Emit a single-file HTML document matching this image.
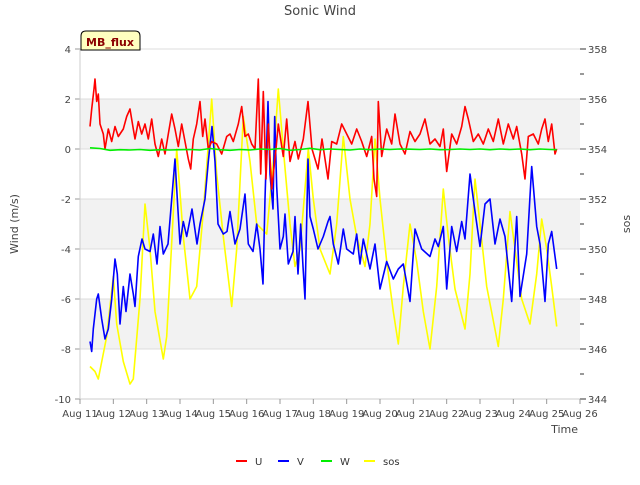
<!DOCTYPE html>
<html><head><meta charset="utf-8"><style>
body{margin:0;background:#fff;font-family:"Liberation Sans",sans-serif;}
svg text{font-family:"DejaVu Sans","Liberation Sans",sans-serif;}
</style></head><body>
<svg id="c" width="640" height="480" xmlns="http://www.w3.org/2000/svg">
<rect x="0" y="0" width="640" height="480" fill="#fff"/>
<text x="320" y="15" text-anchor="middle" font-size="13" fill="#444">Sonic Wind</text>
<g id="bands"></g>
<g id="grid"></g>
<g id="series"></g>
<g id="axes"></g>
<text transform="translate(18,224) rotate(-90)" text-anchor="middle" font-size="11" fill="#444">Wind (m/s)</text>
<text transform="translate(630,224) rotate(-90)" text-anchor="middle" font-size="11" fill="#444">sos</text>
<text x="578" y="433" text-anchor="end" font-size="11" fill="#444">Time</text>
<g>
<path d="M81,50 L81,36 Q81,31 86,31 L135,31 Q140,31 140,36 L140,50 Z" fill="#ffffc0" stroke="#000" stroke-width="1"/>
<text x="110" y="46" text-anchor="middle" font-size="11" font-weight="bold" fill="#8b0000">MB_flux</text>
</g>
<g id="legend"></g>
</svg>
<script>
const tU=[11.3,11.35,11.42,11.45,11.5,11.55,11.6,11.7,11.75,11.85,11.95,12.05,12.15,12.3,12.4,12.5,12.6,12.65,12.75,12.85,12.95,13.05,13.15,13.25,13.35,13.45,13.55,13.65,13.75,13.85,13.95,14.05,14.15,14.25,14.32,14.4,14.5,14.6,14.68,14.75,14.85,14.95,15.1,15.25,15.4,15.5,15.6,15.75,15.85,15.95,16.05,16.15,16.25,16.35,16.42,16.5,16.58,16.65,16.75,16.88,16.95,17.1,17.2,17.3,17.45,17.55,17.7,17.84,17.96,18.14,18.26,18.44,18.55,18.7,18.85,19.0,19.15,19.3,19.45,19.6,19.75,19.82,19.9,19.95,20.05,20.2,20.35,20.45,20.6,20.75,20.9,21.05,21.2,21.35,21.5,21.65,21.8,21.9,22.0,22.15,22.3,22.45,22.55,22.65,22.8,22.95,23.1,23.25,23.4,23.55,23.7,23.85,24.0,24.1,24.25,24.35,24.45,24.6,24.75,24.85,24.95,25.05,25.15,25.25,25.3];
const uVals=[0.9,1.6,2.4,2.8,1.9,2.2,1.0,0.6,0.0,0.8,0.3,0.9,0.5,0.8,1.3,1.6,0.8,0.4,1.1,0.6,1.0,0.4,1.2,0.2,-0.3,0.4,-0.2,0.6,1.4,0.8,0.1,1.0,0.3,-0.4,-0.8,0.4,1.0,1.9,0.5,1.2,0.0,0.3,0.2,-0.2,0.5,0.6,0.3,1.0,1.7,0.5,0.6,0.2,0.0,2.8,-1.0,2.3,-1.2,1.0,-1.6,0.0,1.0,-0.3,1.2,-0.5,0.3,-0.4,0.4,1.9,0.0,-0.8,0.4,-1.2,0.3,0.2,1.0,0.6,0.2,0.8,0.3,-0.3,0.5,-1.2,-1.9,1.9,-0.3,0.8,0.2,1.4,0.2,-0.2,0.7,0.3,0.6,1.2,0.2,0.4,0.1,0.8,-0.9,0.6,0.2,0.9,1.7,1.2,0.3,0.6,0.2,0.8,0.3,1.2,0.2,1.0,0.4,0.9,-0.2,-1.2,0.5,0.6,0.2,0.8,1.2,0.3,1.0,-0.2,0.0];
const tV=[11.3,11.35,11.4,11.5,11.55,11.65,11.75,11.85,11.95,12.05,12.12,12.2,12.3,12.38,12.5,12.6,12.65,12.75,12.86,12.95,13.1,13.2,13.31,13.4,13.5,13.64,13.72,13.85,13.92,14.0,14.1,14.2,14.36,14.51,14.6,14.75,14.85,14.96,15.05,15.14,15.3,15.41,15.5,15.65,15.8,15.95,16.05,16.19,16.3,16.4,16.49,16.55,16.64,16.7,16.79,16.84,16.9,17.0,17.1,17.15,17.25,17.39,17.45,17.54,17.62,17.69,17.75,17.84,17.9,18.0,18.14,18.3,18.44,18.5,18.6,18.75,18.9,19.0,19.2,19.3,19.4,19.5,19.7,19.85,20.0,20.2,20.4,20.55,20.7,20.9,21.05,21.25,21.5,21.65,21.75,21.9,22.0,22.15,22.3,22.45,22.55,22.7,22.85,23.0,23.15,23.3,23.45,23.6,23.75,23.95,24.1,24.2,24.4,24.55,24.7,24.8,24.95,25.05,25.15,25.3];
const vVals=[-7.7,-8.1,-7.2,-6.0,-5.8,-6.8,-7.6,-7.2,-6.0,-4.4,-5.0,-7.0,-5.5,-6.5,-5.0,-5.8,-6.3,-4.3,-3.6,-4.0,-4.1,-3.4,-4.6,-3.1,-4.2,-3.8,-2.5,-0.4,-2.0,-3.8,-2.9,-3.5,-2.4,-3.8,-3.0,-2.0,-0.5,0.9,-0.5,-3.0,-3.4,-3.3,-2.5,-3.8,-3.2,-1.8,-3.8,-4.1,-3.0,-4.0,-5.4,-2.0,1.9,-1.0,-2.4,1.3,-1.5,-4.0,-3.5,-2.6,-4.6,-4.1,-2.7,-5.0,-3.0,-4.7,-6.0,-0.4,-2.7,-3.2,-4.0,-3.5,-2.9,-2.7,-3.8,-4.6,-3.2,-4.0,-4.2,-3.4,-4.6,-3.6,-4.8,-3.8,-5.6,-4.5,-5.2,-4.8,-4.6,-6.1,-3.2,-4.0,-4.3,-3.6,-3.9,-3.1,-5.6,-3.1,-4.1,-2.9,-3.6,-1.0,-2.5,-3.9,-2.2,-2.0,-3.8,-2.8,-3.5,-6.1,-2.7,-5.9,-4.2,-0.7,-3.1,-3.8,-6.1,-3.8,-3.3,-4.8];
const tW=[11.3,11.6,11.9,12.2,12.5,12.8,13.1,13.4,13.7,14.0,14.3,14.6,14.9,15.2,15.5,15.8,16.1,16.4,16.7,17.0,17.3,17.6,17.9,18.2,18.5,18.8,19.1,19.4,19.7,20.0,20.3,20.6,20.9,21.2,21.5,21.8,22.1,22.4,22.7,23.0,23.3,23.6,23.9,24.2,24.5,24.8,25.1,25.3];
const wVals=[0.05,0.02,-0.05,-0.03,-0.04,-0.02,-0.05,-0.03,-0.04,-0.03,-0.02,-0.04,0.02,-0.03,-0.05,-0.02,-0.04,0.0,-0.02,0.02,-0.05,-0.02,0.03,-0.03,0.0,-0.02,-0.04,0.0,-0.03,0.0,-0.02,0.0,-0.01,-0.02,0.0,-0.03,-0.02,0.0,-0.02,0.0,-0.03,0.0,-0.02,0.0,-0.03,0.0,-0.02,-0.03];
const tS=[11.3,11.45,11.55,11.8,12.0,12.1,12.3,12.5,12.6,12.8,12.95,13.1,13.25,13.5,13.6,13.9,14.1,14.3,14.5,14.7,14.95,15.1,15.3,15.55,15.7,15.9,16.1,16.3,16.6,16.8,16.95,17.1,17.3,17.45,17.6,17.85,18.0,18.2,18.5,18.7,18.9,19.1,19.3,19.55,19.7,19.85,20.0,20.2,20.4,20.55,20.7,20.9,21.1,21.3,21.5,21.7,21.9,22.05,22.25,22.55,22.7,22.85,23.0,23.2,23.55,23.7,23.9,24.05,24.25,24.5,24.7,24.85,25.0,25.15,25.3];
const sosVals=[345.3,345.1,344.8,346.5,348.9,347.0,345.5,344.6,344.8,348.0,351.8,350.0,347.5,345.6,346.5,354.0,350.5,348.0,348.5,351.5,356.0,353.0,350.5,347.7,350.0,355.3,353.5,351.0,350.6,353.5,356.4,354.0,351.0,349.3,350.0,354.0,352.0,350.0,349.0,351.0,354.5,352.0,350.5,349.3,351.0,354.4,352.0,349.5,347.5,346.2,348.5,351.0,349.5,347.5,346.0,348.5,352.4,350.5,348.4,346.8,349.0,352.8,351.0,348.5,346.1,348.0,351.5,350.0,348.0,347.0,349.0,351.2,350.0,348.5,346.9];
const yTicks=[-10,-8,-6,-4,-2,0,2,4];
const y2Ticks=[344,346,348,350,352,354,356,358];
const xTicks=[11,12,13,14,15,16,17,18,19,20,21,22,23,24,25,26];

const NS="http://www.w3.org/2000/svg";
const L=80,R=580,T=49,B=399;
const xS=d=>L+(d-11)/15*(R-L);
const yS=v=>B-(v+10)/14*(B-T);
const y2S=v=>B-(v-344)/14*(B-T);
function mk(tag,attrs,parent){const e=document.createElementNS(NS,tag);for(const k in attrs)e.setAttribute(k,attrs[k]);parent.appendChild(e);return e;}
const bands=document.getElementById('bands'),grid=document.getElementById('grid'),axes=document.getElementById('axes'),series=document.getElementById('series'),legend=document.getElementById('legend');
[[0,2],[-4,-2],[-8,-6]].forEach(b=>{const r=mk('rect',{x:L,y:yS(b[1]),width:R-L,height:yS(b[0])-yS(b[1]),fill:'#f2f2f2'},bands);

});
yTicks.forEach(v=>{const g=mk('line',{x1:L,x2:R,y1:yS(v),y2:yS(v),stroke:'#dcdcdc','stroke-width':1},grid);


const t=mk('text',{x:L-9,y:yS(v)+4,'text-anchor':'end','font-size':10,fill:'#444'},axes);t.textContent=v;


mk('line',{x1:L-5,x2:L,y1:yS(v),y2:yS(v),stroke:'#999'},axes);});
mk('line',{x1:L,x2:L,y1:T,y2:B,stroke:'#ccc'},axes);
mk('line',{x1:L,x2:R,y1:B,y2:B,stroke:'#ccc'},axes);
y2Ticks.forEach(v=>{mk('line',{x1:R,x2:R+6,y1:y2S(v),y2:y2S(v),stroke:'#333'},axes);
if(v<358)mk('line',{x1:R,x2:R+4,y1:y2S(v+1),y2:y2S(v+1),stroke:'#333'},axes);
const t=mk('text',{x:R+8,y:y2S(v)+4,'font-size':10,fill:'#444'},axes);t.textContent=v;

});
xTicks.forEach(d=>{mk('line',{x1:xS(d),x2:xS(d),y1:B,y2:B+5,stroke:'#999'},axes);
const t=mk('text',{x:xS(d),y:B+18,'text-anchor':'middle','font-size':10,fill:'#444'},axes);t.textContent='Aug '+d;

});
function line(ts,vs,sc,color,name){const p=ts.map((t,i)=>xS(t).toFixed(1)+','+sc(vs[i]).toFixed(1)).join(' ');
const e=mk('polyline',{points:p,fill:'none',stroke:color,'stroke-width':1.6,'stroke-linejoin':'round'},series);

}
line(tS,sosVals,y2S,'#ffff00','sos-line');
line(tV,vVals,yS,'#0000ff','v-line');
line(tU,uVals,yS,'#ff0000','u-line');
line(tW,wVals,yS,'#00ee00','w-line');
[['U','#ff0000',236],['V','#0000ff',278],['W','#00ee00',321],['sos','#ffff00',364]].forEach(l=>{
const g=mk('g',{},legend);


mk('line',{x1:l[2],x2:l[2]+11,y1:461,y2:461,stroke:l[1],'stroke-width':2},g);
const t=mk('text',{x:l[2]+19,y:465,'font-size':10,fill:'#333'},g);t.textContent=l[0];});
</script>
</body></html>
